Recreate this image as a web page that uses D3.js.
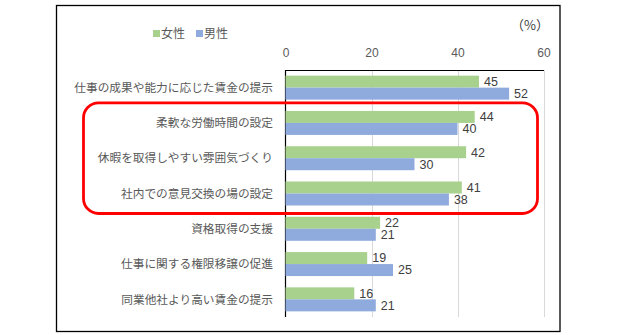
<!DOCTYPE html>
<html>
<head>
<meta charset="utf-8">
<script src="https://cdn.jsdelivr.net/npm/d3@7"></script>
<style>
  html, body { margin: 0; padding: 0; background: #fff; }
  svg { display: block; font-family: "Noto Sans CJK JP", "Noto Sans", sans-serif; }
</style>
</head>
<body>
<svg id="chart" width="631" height="335"></svg>
<script>
// Categories (top to bottom) and values in percent
const categories = [
  "仕事の成果や能力に応じた賃金の提示",
  "柔軟な労働時間の設定",
  "休暇を取得しやすい雰囲気づくり",
  "社内での意見交換の場の設定",
  "資格取得の支援",
  "仕事に関する権限移譲の促進",
  "同業他社より高い賃金の提示"
];
const female = [45, 44, 42, 41, 22, 19, 16];
const male   = [52, 40, 30, 38, 21, 25, 21];
const seriesNames = ["女性", "男性"];
const seriesColors = ["#a9d18e", "#8faadc"];
const tickValues = [0, 20, 40, 60];
const unitLabel = "（%）";

const svg = d3.select("#chart");

// Outer chart frame
svg.append("rect")
  .attr("x", 56.5).attr("y", 5.5)
  .attr("width", 503.5).attr("height", 326)
  .attr("fill", "#fff").attr("stroke", "#000").attr("stroke-width", 1.3);

const plot = { left: 285.5, right: 543.5, top: 70, bottom: 317 };

const x = d3.scaleLinear().domain([0, 60]).range([plot.left, plot.right]);
const y = d3.scaleBand().domain(categories)
  .range([plot.top, plot.bottom])
  .paddingInner(0.32).paddingOuter(0.16);
const ySub = d3.scaleBand().domain(seriesNames).range([0, y.bandwidth()]);

// Vertical gridlines
svg.append("g").selectAll("line")
  .data(tickValues.filter(t => t > 0))
  .join("line")
  .attr("x1", d => Math.round(x(d)) + 0.5).attr("x2", d => Math.round(x(d)) + 0.5)
  .attr("y1", plot.top).attr("y2", plot.bottom)
  .attr("stroke", "#d9d9d9").attr("stroke-width", 1);

// Value axis along the top
const xAxis = svg.append("g")
  .attr("transform", `translate(0,${plot.top})`)
  .call(d3.axisTop(x).tickValues(tickValues).tickSize(0).tickPadding(13));
xAxis.select(".domain").attr("stroke", "#000").attr("stroke-width", 1);
xAxis.selectAll("text")
  .attr("font-size", 12)
  .attr("fill", "#595959")
  .attr("font-family", "Liberation Sans, Arial, sans-serif");

// Category axis line
svg.append("line")
  .attr("x1", plot.left).attr("x2", plot.left)
  .attr("y1", plot.top).attr("y2", plot.bottom)
  .attr("stroke", "#000").attr("stroke-width", 1.2);

// Bars
const rows = categories.map((c, i) => ({ cat: c, values: [female[i], male[i]] }));
const groups = svg.append("g").selectAll("g")
  .data(rows).join("g")
  .attr("transform", d => `translate(0,${y(d.cat)})`);

groups.selectAll("rect")
  .data(d => d.values.map((v, j) => ({ name: seriesNames[j], v, j })))
  .join("rect")
  .attr("x", x(0))
  .attr("y", d => ySub(d.name))
  .attr("width", d => x(d.v) - x(0))
  .attr("height", ySub.bandwidth())
  .attr("fill", d => seriesColors[d.j]);

// Value labels
groups.selectAll("text")
  .data(d => d.values.map((v, j) => ({ name: seriesNames[j], v, j })))
  .join("text")
  .attr("x", d => x(d.v) + 5)
  .attr("y", d => ySub(d.name) + ySub.bandwidth() / 2)
  .attr("dy", "0.35em")
  .attr("font-size", 12.5)
  .attr("fill", "#404040")
  .attr("font-family", "Liberation Sans, Arial, sans-serif")
  .text(d => d.v);

// Category labels
svg.append("g").selectAll("text")
  .data(categories).join("text")
  .attr("x", 273)
  .attr("y", d => y(d) + y.bandwidth() / 2)
  .attr("dy", "0.36em")
  .attr("text-anchor", "end")
  .attr("font-size", 11.7)
  .attr("fill", "#595959")
  .text(d => d);

// Legend
const legend = svg.append("g");
const legendX = [153, 196];
seriesNames.forEach((name, i) => {
  legend.append("rect")
    .attr("x", legendX[i]).attr("y", 30)
    .attr("width", 7).attr("height", 7)
    .attr("fill", seriesColors[i]);
  legend.append("text")
    .attr("x", legendX[i] + 8).attr("y", 33.5)
    .attr("dy", "0.36em")
    .attr("font-size", 12)
    .attr("fill", "#595959")
    .text(name);
});

// Unit label
svg.append("text")
  .attr("x", 549).attr("y", 25)
  .attr("dy", "0.36em")
  .attr("text-anchor", "end")
  .attr("font-size", 13)
  .attr("font-family", "Noto Sans CJK JP")
  .attr("fill", "#404040")
  .text(unitLabel);

// Highlight around the work-environment items
const hlTop = y(categories[1]) - 8;
const hlBottom = y(categories[3]) + y.bandwidth() + 8;
svg.append("rect")
  .attr("x", 83.5).attr("y", hlTop)
  .attr("width", 537.5 - 83.5).attr("height", hlBottom - hlTop)
  .attr("rx", 15).attr("ry", 15)
  .attr("fill", "none")
  .attr("stroke", "#ff0000").attr("stroke-width", 2.8);
</script>
</body>
</html>
